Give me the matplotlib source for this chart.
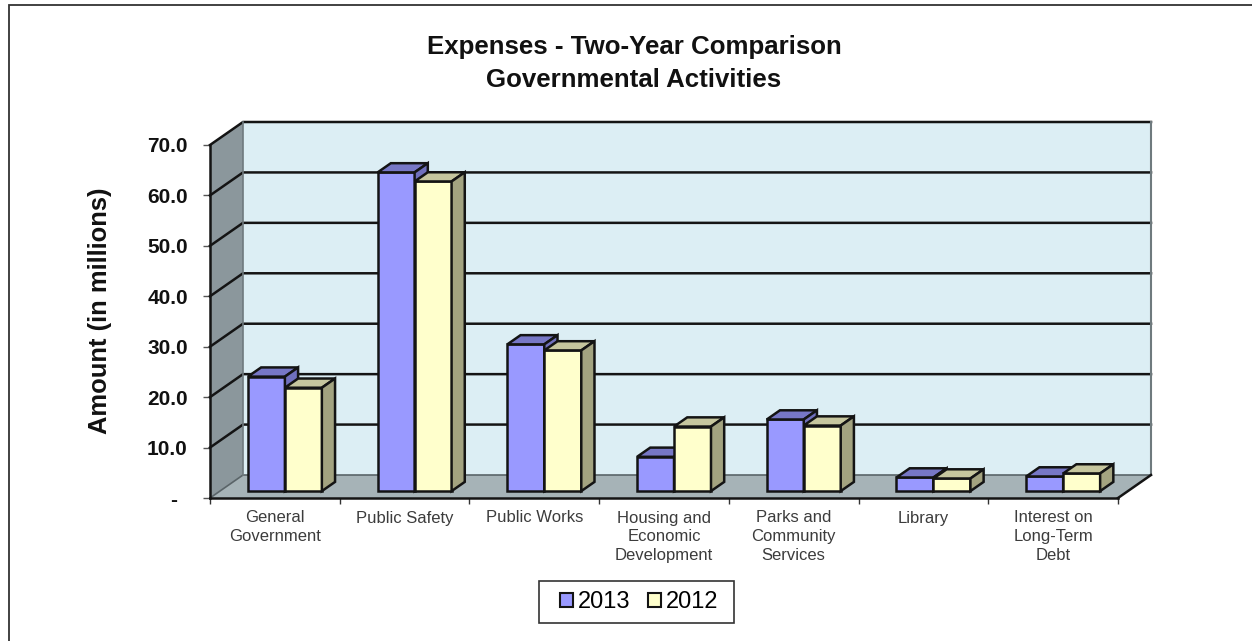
import matplotlib
matplotlib.use("Agg")
import matplotlib.pyplot as plt
from matplotlib.lines import Line2D
from matplotlib.patches import Patch, Rectangle

categories = ["General\nGovernment", "Public Safety", "Public Works",
              "Housing and\nEconomic\nDevelopment", "Parks and\nCommunity\nServices",
              "Library", "Interest on\nLong-Term\nDebt"]
years = ["2013", "2012"]
amounts_2013 = [22.7, 63.2, 29.1, 6.8, 14.2, 2.7, 2.9]
amounts_2012 = [20.5, 61.4, 27.9, 12.8, 13.0, 2.5, 3.5]
y_ticks = [0, 10, 20, 30, 40, 50, 60, 70]
y_tick_labels = ["-", "10.0", "20.0", "30.0", "40.0", "50.0", "60.0", "70.0"]

W, H = 1252, 641
plt.rcParams["font.family"] = ["Liberation Sans", "DejaVu Sans"]

# axes rectangle is the front edge of the 3d box
left, right, bottom, top = 210, 1118, 498, 145
fig = plt.figure(figsize=(W / 100, H / 100), dpi=100)
ax = fig.add_axes([left / W, 1 - bottom / H, (right - left) / W, (bottom - top) / H])
ax.set_xlim(0, 7)
ax.set_ylim(0, 70)
ax.patch.set_visible(False)

depth_x = 33 / ((right - left) / 7)
depth_y = 23 / ((bottom - top) / 70)
bar_w = 0.285
bar_gap = 0.216
edge = "#141414"


def box(x0, x1, y0, y1, front, front_c, top_c, side_c, z):
    # one bar, front face plus top and side in the oblique projection
    fx, fy = front * depth_x, front * depth_y
    dx, dy = 0.40 * depth_x, 0.40 * depth_y
    xa, xb = x0 + fx, x1 + fx
    ya, yb = y0 + fy, y1 + fy
    ax.bar(xa, yb - ya, bar_w, bottom=ya, align="edge", color=front_c,
           edgecolor=edge, linewidth=1.8, zorder=z, clip_on=False)
    ax.fill([xa, xa + dx, xb + dx, xb], [yb, yb + dy, yb + dy, yb], facecolor=top_c,
            edgecolor=edge, linewidth=1.8, zorder=z, clip_on=False)
    ax.fill([xb, xb + dx, xb + dx, xb], [ya, ya + dy, yb + dy, yb], facecolor=side_c,
            edgecolor=edge, linewidth=1.8, zorder=z, clip_on=False)


# back wall, side wall, floor
ax.fill([depth_x, 7 + depth_x, 7 + depth_x, depth_x],
        [depth_y, depth_y, 70 + depth_y, 70 + depth_y],
        facecolor="#dceef4", edgecolor="none", zorder=1, clip_on=False)
ax.fill([0, depth_x, depth_x, 0], [0, depth_y, 70 + depth_y, 70],
        facecolor="#8b979c", edgecolor="none", zorder=1, clip_on=False)
ax.fill([0, depth_x, 7 + depth_x, 7], [0, depth_y, depth_y, 0],
        facecolor="#a6b3b7", edgecolor="none", zorder=1, clip_on=False)

for v in y_ticks[1:]:
    ax.plot([0, depth_x, 7 + depth_x], [v, v + depth_y, v + depth_y],
            color=edge, lw=1.8, zorder=2, clip_on=False, solid_joinstyle="miter")
ax.plot([0, depth_x, 7 + depth_x], [0, depth_y, depth_y], color="#5a6468", lw=1.2,
        zorder=2, clip_on=False)
ax.plot([depth_x, depth_x], [depth_y, 70 + depth_y], color="#6f7a7e", lw=1.2, zorder=2,
        clip_on=False)
ax.plot([7 + depth_x, 7 + depth_x], [depth_y, 70 + depth_y], color="#6f7a7e", lw=1.5,
        zorder=2, clip_on=False)
ax.plot([7, 7 + depth_x], [0, depth_y], color=edge, lw=1.8, zorder=2, clip_on=False)

for i in range(len(categories)):
    x0 = i + bar_gap
    box(x0, x0 + bar_w, 0, amounts_2013[i], 0.30, "#9999ff", "#7777c6", "#7070bd", 5 + i)
    x1 = x0 + bar_w
    box(x1, x1 + bar_w, 0, amounts_2012[i], 0.30, "#ffffcc", "#c6c69e", "#a3a380", 5 + i + 0.5)

# axes, ticks, labels
for s in ["top", "right"]:
    ax.spines[s].set_visible(False)
for s in ["left", "bottom"]:
    ax.spines[s].set_linewidth(1.8)
    ax.spines[s].set_color(edge)
    ax.spines[s].set_zorder(20)
ax.set_yticks(y_ticks)
ax.set_yticklabels(y_tick_labels, fontsize=15, fontweight="bold", color="#111111")
# the zero dash sits inside the label column, accounting style
ax.get_yticklabels()[0].set_x(-0.012)
ax.get_yticklabels()[0].set_ha("right")
ax.set_xticks(range(8))
ax.set_xticklabels([])
ax.set_xticks([i + 0.5 for i in range(7)], minor=True)
ax.set_xticklabels(categories, minor=True, fontsize=12, color="#3c3c3c", linespacing=1.33)
ax.tick_params(axis="x", which="major", length=4.5, width=1, color="#333333")
ax.tick_params(axis="x", which="minor", length=0, pad=9)
ax.tick_params(axis="y", length=5, width=1, color="#555555", pad=11)

fig.text(100 / W, 1 - 311 / H, "Amount (in millions)", rotation=90, ha="center", va="center",
         fontsize=18.4, fontweight="bold", color="#111111")
fig.text(634 / W, 1 - 47 / H, "Expenses - Two-Year Comparison", ha="center", va="center",
         fontsize=18.6, fontweight="bold", color="#111111")
fig.text(634 / W, 1 - 80 / H, "Governmental Activities", ha="center", va="center",
         fontsize=18.6, fontweight="bold", color="#111111")

# legend box is a fixed size, entries centred in it
fig.add_artist(Rectangle((538.5 / W, 1 - 623 / H), 195 / W, 42 / H, transform=fig.transFigure,
                         facecolor="white", edgecolor="#333333", linewidth=1.2, zorder=3))
handles = [Patch(facecolor="#9999ff", edgecolor=edge, linewidth=1.5, label=years[0]),
           Patch(facecolor="#ffffcc", edgecolor=edge, linewidth=1.5, label=years[1])]
leg = fig.legend(handles=handles, ncols=2, loc="center", bbox_to_anchor=(639 / W, 1 - 602 / H),
                 fontsize=17, frameon=False, handlelength=0.55, handleheight=0.55,
                 handletextpad=0.2, columnspacing=0.75, borderpad=0, borderaxespad=0)
leg.set_zorder(4)

# chart frame, only left and top edges are inside the canvas
fig.add_artist(Line2D([8.5 / W, 8.5 / W, 1], [0, 1 - 4.5 / H, 1 - 4.5 / H],
                      transform=fig.transFigure, color="#333333", lw=1.3,
                      solid_joinstyle="miter"))

fig.savefig("out.png", dpi=100)
